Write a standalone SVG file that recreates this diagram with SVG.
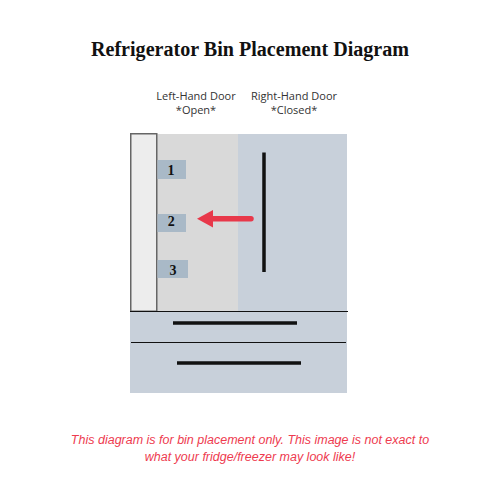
<svg xmlns="http://www.w3.org/2000/svg" width="500" height="500" viewBox="0 0 500 500">
<style>
.title{font-family:"Liberation Serif","DejaVu Serif",serif;font-weight:bold;font-size:20px;fill:#111}
.lbl{font-family:"Open Sans","Noto Sans",sans-serif;font-size:11px;fill:#333;text-anchor:middle}
.num{font-family:"Liberation Serif",serif;font-weight:bold;font-size:14px;fill:#111;text-anchor:middle}
.bin{fill:#a9b9c7}
.foot{font-family:"Liberation Sans",Arial,sans-serif;font-style:italic;font-size:12.5px;fill:#ee3b4f;text-anchor:middle}
.handle{stroke:#111;stroke-width:3.5;fill:none}
.div{stroke:#111;stroke-width:1.2}
</style>
<rect width="500" height="500" fill="#ffffff"/>
<text class="title" x="250" y="56" text-anchor="middle" textLength="318" lengthAdjust="spacingAndGlyphs">Refrigerator Bin Placement Diagram</text>
<g id="labels">
<text class="lbl" x="196" y="100">Left-Hand Door</text>
<text class="lbl" x="196" y="114">*Open*</text>
<text class="lbl" x="294" y="100">Right-Hand Door</text>
<text class="lbl" x="294" y="114">*Closed*</text>
</g>
<g id="fridge">
<rect x="130" y="134" width="217" height="259" fill="#c8d0da"/>
<rect x="157" y="134" width="81" height="177" fill="#d9d9d9"/>
</g>
<g id="left-door">
<rect x="130.75" y="133.75" width="26" height="177.5" fill="#ededed" stroke="#666" stroke-width="1.5"/>
</g>
<g id="right-door">
<line class="handle" x1="264" y1="152.5" x2="264" y2="272"/>
</g>
<g id="drawers">
<line class="div" x1="130" y1="311.5" x2="348" y2="311.5"/>
<line class="div" x1="131" y1="342.5" x2="346" y2="342.5"/>
<line class="handle" x1="173" y1="323" x2="297" y2="323"/>
<line class="handle" x1="177" y1="363" x2="301" y2="363"/>
</g>
<g id="bin1"><rect class="bin" x="157.5" y="160" width="28.5" height="19"/><text class="num" x="171" y="174.5">1</text></g>
<g id="bin2"><rect class="bin" x="157.5" y="214" width="28.5" height="18"/><text class="num" x="171.3" y="225.5">2</text></g>
<g id="bin3"><rect class="bin" x="157.5" y="260" width="30.5" height="18"/><text class="num" x="173" y="274.5">3</text></g>
<g id="connectors">
<line x1="210" y1="218.7" x2="251" y2="218.7" stroke="#e8384a" stroke-width="5.5" stroke-linecap="round"/>
<polygon points="197,218.7 213,210 213,227.5" fill="#e8384a"/>
</g>
<g id="footer">
<text class="foot" x="250" y="444">This diagram is for bin placement only. This image is not exact to</text>
<text class="foot" x="250" y="461">what your fridge/freezer may look like!</text>
</g>
</svg>
